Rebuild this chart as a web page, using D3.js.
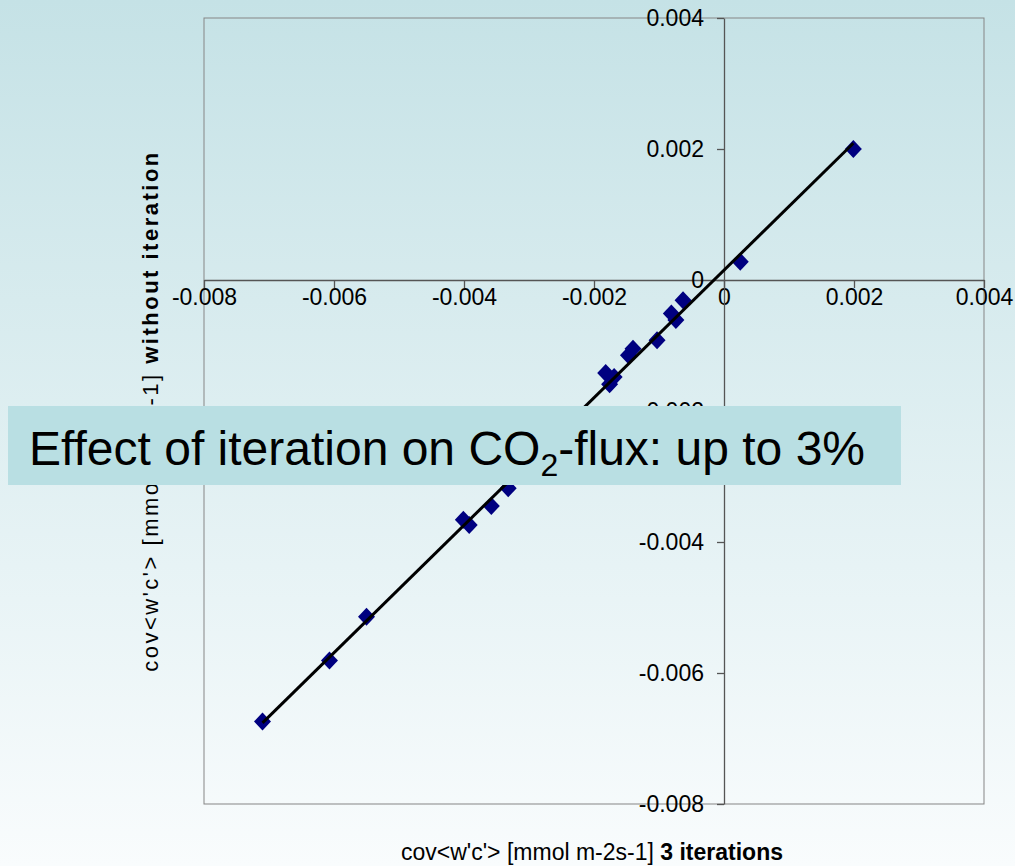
<!DOCTYPE html>
<html>
<head>
<meta charset="utf-8">
<script src="https://cdn.jsdelivr.net/npm/d3@7"></script>
<style>
  html, body { margin: 0; padding: 0; }
  body { width: 1015px; height: 866px; overflow: hidden; }
  text { font-family: "Liberation Sans", Arial, sans-serif; }
</style>
</head>
<body>
<div id="chart"></div>
<script>
// values: cov<w'c'> with 3 iterations (x) vs without iteration (y)
const threeIterations = [0.00199, 0.00025, -0.00063, -0.00081, -0.00074, -0.00103, -0.0014, -0.00147,
    -0.00182, -0.00169, -0.00176, -0.00332, -0.00358, -0.00401, -0.00392, -0.0055, -0.00607, -0.0071];
const withoutIteration = [0.0020, 0.00028, -0.00031, -0.00051, -0.00061, -0.00092, -0.00105, -0.00115,
    -0.00142, -0.00148, -0.00159, -0.00318, -0.00345, -0.00366, -0.00374, -0.00514, -0.00581, -0.00674];

// linear trend line (slope, intercept)
const trendLine = [0.9734, 0.00015];

const xTicks = [-0.008, -0.006, -0.004, -0.002, 0, 0.002, 0.004];
const xTickLabels = ["-0.008", "-0.006", "-0.004", "-0.002", "0", "0.002", "0.004"];
const yTicks = [-0.008, -0.006, -0.004, -0.002, 0, 0.002, 0.004];
const yTickLabels = ["-0.008", "-0.006", "-0.004", "-0.002", "0", "0.002", "0.004"];

const points = threeIterations.map((d, i) => ({ x: d, y: withoutIteration[i] }));

// Canvas Size
const width = 1015, height = 866;
const margin = { top: 18, right: 31, bottom: 62, left: 204 };

const svg = d3.select("#chart")
    .append("svg")
    .attr("width", width)
    .attr("height", height);

// background gradient
const grad = svg.append("defs").append("linearGradient")
    .attr("id", "bg")
    .attr("x1", 0).attr("y1", 0).attr("x2", 0).attr("y2", 1);
grad.append("stop").attr("offset", "0%").attr("stop-color", "#c5e2e6");
grad.append("stop").attr("offset", "100%").attr("stop-color", "#f9fcfd");

svg.append("rect")
    .attr("width", width)
    .attr("height", height)
    .attr("fill", "url(#bg)");

// Define Scales
const xScale = d3.scaleLinear().domain([-0.008, 0.004]).range([margin.left, width - margin.right]);
const yScale = d3.scaleLinear().domain([-0.008, 0.004]).range([height - margin.bottom, margin.top]);

// plot border
svg.append("rect")
    .attr("x", xScale(-0.008))
    .attr("y", yScale(0.004))
    .attr("width", xScale(0.004) - xScale(-0.008))
    .attr("height", yScale(-0.008) - yScale(0.004))
    .attr("fill", "none")
    .attr("stroke", "#858585")
    .attr("stroke-width", 1);

// X axis through y = 0
const xAxis = svg.append("g")
    .attr("transform", `translate(0,${yScale(0)})`)
    .call(d3.axisBottom(xScale)
        .tickValues(xTicks)
        .tickFormat((d, i) => xTickLabels[i])
        .tickSize(8)
        .tickSizeOuter(0)
        .tickPadding(1));

// Y axis through x = 0
const yAxis = svg.append("g")
    .attr("transform", `translate(${xScale(0)},0)`)
    .call(d3.axisLeft(yScale)
        .tickValues(yTicks)
        .tickFormat((d, i) => yTickLabels[i])
        .tickSize(7)
        .tickSizeOuter(0)
        .tickPadding(13));

[xAxis, yAxis].forEach(ax => {
    ax.selectAll("path, line").attr("stroke", "#555").attr("stroke-width", 1.3);
    ax.selectAll("text")
        .attr("fill", "#000")
        .style("font-size", "23px");
});

// markers
svg.append("g")
    .selectAll("path")
    .data(points)
    .join("path")
    .attr("transform", d => `translate(${xScale(d.x)},${yScale(d.y)})`)
    .attr("d", "M0,-9L8.5,0L0,9L-8.5,0Z")
    .attr("fill", "#000080");

// trend line from smallest to largest x
const xExt = d3.extent(threeIterations);
svg.append("path")
    .datum(xExt)
    .attr("fill", "none")
    .attr("stroke", "#000")
    .attr("stroke-width", 3)
    .attr("d", d3.line()
        .x(d => xScale(d))
        .y(d => yScale(trendLine[0] * d + trendLine[1])));

// x axis title
const xTitle = svg.append("text")
    .attr("x", 592)
    .attr("y", 860)
    .attr("text-anchor", "middle")
    .style("font-size", "23px");
xTitle.append("tspan").text("cov<w'c'> [mmol m-2s-1] ");
xTitle.append("tspan").attr("font-weight", "bold").text("3 iterations");

// y axis title
const yTitle = svg.append("text")
    .attr("transform", `translate(158,${(yScale(0.004) + yScale(-0.008)) / 2}) rotate(-90)`)
    .attr("text-anchor", "middle")
    .style("font-size", "22px")
    .style("letter-spacing", "2.5px");
yTitle.append("tspan").text("cov<w'c'> [mmol m-2s-1] ");
yTitle.append("tspan").attr("font-weight", "bold").text("without iteration");

// overlay note box
svg.append("rect")
    .attr("x", 8)
    .attr("y", 406)
    .attr("width", 893)
    .attr("height", 79)
    .attr("fill", "#b9dfe3");

const note = svg.append("text")
    .attr("x", 29)
    .attr("y", 465)
    .style("font-size", "48px")
    .attr("fill", "#000");
note.append("tspan").text("Effect of iteration on CO");
note.append("tspan").attr("dy", 11).style("font-size", "32px").text("2");
note.append("tspan").attr("dy", -11).text("-flux: up to 3%");
</script>
</body>
</html>
